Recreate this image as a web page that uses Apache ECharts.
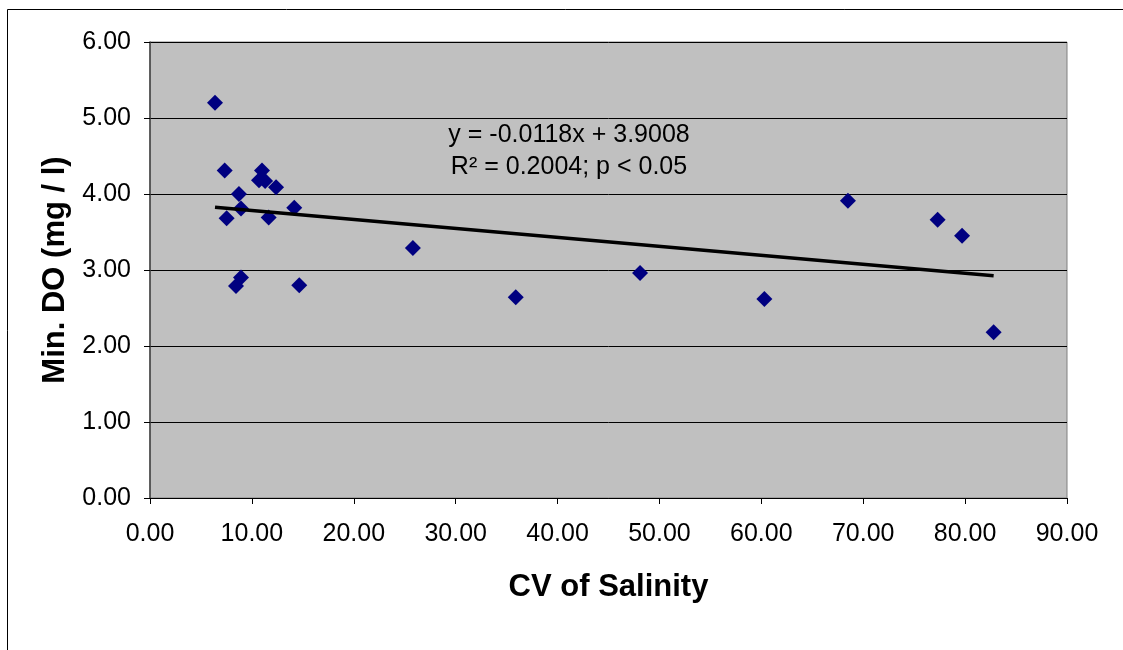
<!DOCTYPE html>
<html><head><meta charset="utf-8">
<script src="https://cdn.jsdelivr.net/npm/echarts@6/dist/echarts.min.js"></script>
<style>html,body{margin:0;padding:0;background:#fff}#c{width:1123px;height:650px}</style>
</head><body><div id="c"></div>
<script>
const cvSalinity = [6.38, 7.33, 10.99, 10.7, 11.3, 12.37, 8.73, 8.93, 14.16, 7.52, 11.65, 8.93, 8.44, 14.65, 25.8, 35.9, 48.1, 60.3, 68.5, 77.3, 79.7, 82.8];
const minDO      = [5.20, 4.31, 4.31, 4.18, 4.17, 4.09, 4.00, 3.81, 3.82, 3.68, 3.69, 2.90, 2.79, 2.80, 3.29, 2.64, 2.96, 2.62, 3.91, 3.66, 3.45, 2.18];
const slope = -0.0118, intercept = 3.9008;
const eqText = 'y = -0.0118x + 3.9008';
const r2Text = 'R² = 0.2004; p < 0.05';

const pts = cvSalinity.map((x, i) => [x, minDO[i]]);
const xmin = Math.min(...cvSalinity), xmax = Math.max(...cvSalinity);
const trend = [[xmin, slope * xmin + intercept], [xmax, slope * xmax + intercept]];

const chart = echarts.init(document.getElementById('c'));
const font = 'Liberation Sans, Arial, sans-serif';
chart.setOption({
  animation: false,
  backgroundColor: '#fff',
  textStyle: { fontFamily: font },
  grid: { left: 150, top: 42, right: 56, bottom: 152, show: true, backgroundColor: '#C0C0C0', borderColor: '#808080', borderWidth: 1 },
  xAxis: {
    type: 'value', min: 0, max: 90, interval: 10,
    name: 'CV of Salinity', nameLocation: 'middle', nameGap: 74,
    nameTextStyle: { fontSize: 31, fontWeight: 'bold', color: '#000', fontFamily: font },
    axisLine: { onZero: false, lineStyle: { color: '#000', width: 1 } },
    axisTick: { show: true, length: 6, lineStyle: { color: '#000' } },
    axisLabel: { fontSize: 25, color: '#000', margin: 24, formatter: v => v.toFixed(2) },
    splitLine: { show: false }
  },
  yAxis: {
    type: 'value', min: 0, max: 6, interval: 1,
    name: 'Min. DO (mg / l)', nameLocation: 'middle', nameGap: 74,
    nameTextStyle: { fontSize: 31, fontWeight: 'bold', color: '#000', fontFamily: font },
    axisLine: { show: true, lineStyle: { color: '#404040', width: 1.5 } },
    axisTick: { show: true, length: 6, lineStyle: { color: '#000' } },
    axisLabel: { fontSize: 25, color: '#000', margin: 19, formatter: v => v.toFixed(2) },
    splitLine: { show: true, lineStyle: { color: '#000', width: 1 } }
  },
  series: [
    { type: 'scatter', data: pts, symbol: 'diamond', symbolSize: 16, itemStyle: { color: '#000080', opacity: 1 }, z: 3 },
    { type: 'line', data: trend, symbol: 'none', lineStyle: { color: '#000', width: 3.5 }, z: 4 }
  ],
  graphic: [
    { type: 'rect', shape: { x: 7.5, y: 9.5, width: 1300, height: 800 }, style: { fill: 'none', stroke: '#000', lineWidth: 1 }, silent: true, z: -10 },
    { type: 'text', x: 569, y: 119, style: {
        text: eqText + '\n' + r2Text,
        align: 'center', verticalAlign: 'top', fill: '#000',
        fontSize: 25, fontFamily: font, lineHeight: 32
      }, z: 10 }
  ]
});
</script></body></html>
